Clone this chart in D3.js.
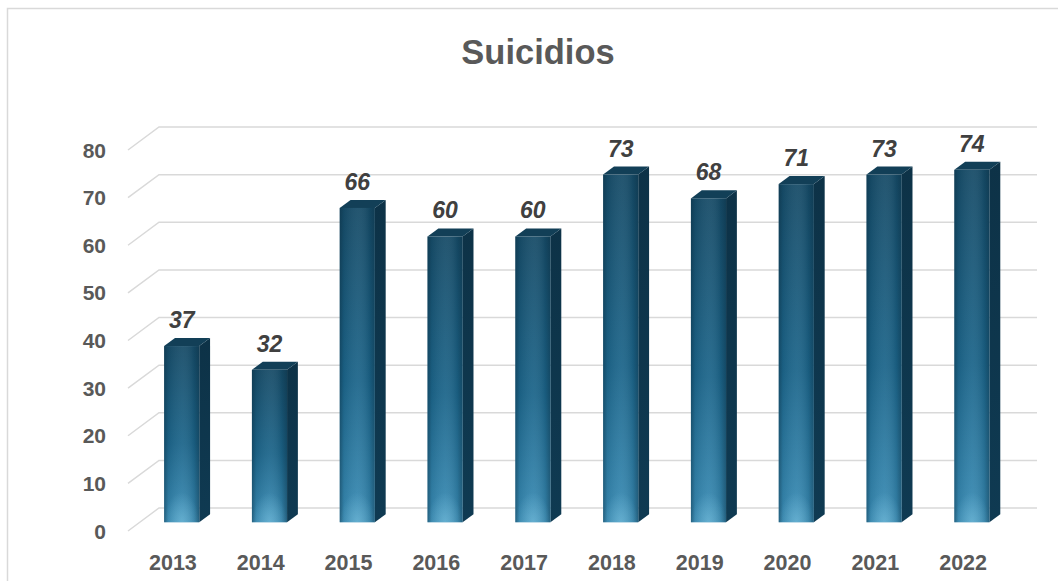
<!DOCTYPE html>
<html><head><meta charset="utf-8">
<script src="https://cdn.jsdelivr.net/npm/d3@7"></script>
<style>html,body{margin:0;padding:0;background:#fff;overflow:hidden}</style>
</head><body>
<svg id="c" width="1058" height="581"></svg>
<script>
const years = ["2013","2014","2015","2016","2017","2018","2019","2020","2021","2022"];
const values = [37,32,66,60,60,73,68,71,73,74];
const yTicks = [0,10,20,30,40,50,60,70,80];
const title = "Suicidios";

const svg = d3.select("#c");
const font = "'Liberation Sans', Arial, sans-serif";

// layout of the 3D box
const frontX0 = 128, frontX1 = 1006, frontBaseY = 531;
const depthDX = 31, depthDY = -23;
const plotH = 381;
const fBar0 = 0.38, fBar1 = 0.73;

const x = d3.scaleBand().domain(years).range([frontX0, frontX1]).paddingInner(0).paddingOuter(0);
const y = d3.scaleLinear().domain([0, 80]).range([0, plotH]);

const P = (px, v, f) => [px + f*depthDX, frontBaseY - y(v) + f*depthDY];

// border
svg.append("rect").attr("x",7.5).attr("y",8.5).attr("width",1100).attr("height",700)
  .attr("fill","none").attr("stroke","#d9d9d9").attr("stroke-width",1.5);

// title
svg.append("text").attr("x",538).attr("y",64).attr("text-anchor","middle")
  .attr("font-family",font).attr("font-weight","bold").attr("font-size",34.5)
  .attr("fill","#595959").text(title);

// gradients
const defs = svg.append("defs");
const gv = defs.append("linearGradient").attr("id","gv").attr("x1",0).attr("y1",0).attr("x2",0).attr("y2",1);
gv.append("stop").attr("offset","0%").attr("stop-color","#164b67");
gv.append("stop").attr("offset","55%").attr("stop-color","#1c658a");
gv.append("stop").attr("offset","100%").attr("stop-color","#3a8db6");
const gh = defs.append("linearGradient").attr("id","gh").attr("x1",0).attr("y1",0).attr("x2",1).attr("y2",0);
gh.append("stop").attr("offset","0%").attr("stop-color","#0a2a3c").attr("stop-opacity",0.45);
gh.append("stop").attr("offset","12%").attr("stop-color","#0a2a3c").attr("stop-opacity",0.1);
gh.append("stop").attr("offset","50%").attr("stop-color","#ffffff").attr("stop-opacity",0.06);
gh.append("stop").attr("offset","85%").attr("stop-color","#0a2a3c").attr("stop-opacity",0.15);
gh.append("stop").attr("offset","100%").attr("stop-color","#0a2a3c").attr("stop-opacity",0.45);
const gr = defs.append("radialGradient").attr("id","gr").attr("cx","0.5").attr("cy","1").attr("r","0.5");
gr.append("stop").attr("offset","0%").attr("stop-color","#7cc3e0").attr("stop-opacity",0.55);
gr.append("stop").attr("offset","100%").attr("stop-color","#7cc3e0").attr("stop-opacity",0);
const gs = defs.append("linearGradient").attr("id","gs").attr("x1",0).attr("y1",0).attr("x2",0).attr("y2",1);
gs.append("stop").attr("offset","0%").attr("stop-color","#0d3247");
gs.append("stop").attr("offset","100%").attr("stop-color","#0f3a52");

// gridlines and y tick labels
const grid = svg.append("g");
yTicks.forEach(t => {
  const a = P(frontX0, t, 0), b = P(frontX0, t, 1), c = P(frontX1, t, 1);
  grid.append("path").attr("d", d3.line()([a,b,c]))
    .attr("fill","none").attr("stroke","#d9d9d9").attr("stroke-width",1.5);
  grid.append("text").attr("x",106).attr("y",a[1]+7.5).attr("text-anchor","end")
    .attr("font-family",font).attr("font-weight","bold").attr("font-size",21)
    .attr("fill","#595959").text(t);
});

// bars
const bw = x.bandwidth()*0.4;
const bars = svg.append("g");
years.forEach((yr, i) => {
  const v = values[i];
  const x0 = x(yr) + (x.bandwidth()-bw)/2 - 2;
  const x1 = x0 + bw;
  const fl = P(x0, 0, fBar0), fr = P(x1, 0, fBar0);
  const tl = P(x0, v, fBar0), tr = P(x1, v, fBar0);
  const btr = P(x1, v, fBar1), btl = P(x0, v, fBar1), bbr = P(x1, 0, fBar1);
  const g = bars.append("g");
  g.append("path").attr("d", d3.line()([fr, tr, btr, bbr]) + "Z").attr("fill","url(#gs)");
  g.append("path").attr("d", d3.line()([tl, tr, btr, btl]) + "Z").attr("fill","#123f57");
  const rx = tl[0], ry = tl[1], rw = fr[0]-fl[0], rh = fl[1]-tl[1];
  g.append("rect").attr("x",rx).attr("y",ry).attr("width",rw).attr("height",rh).attr("fill","url(#gv)");
  g.append("rect").attr("x",rx).attr("y",ry).attr("width",rw).attr("height",rh).attr("fill","url(#gh)");
  g.append("rect").attr("x",rx).attr("y",Math.max(ry, fl[1]-60)).attr("width",rw)
    .attr("height",Math.min(rh,60)).attr("fill","url(#gr)");
  svg.append("text").attr("x",(tl[0]+tr[0])/2).attr("y",btl[1]-10).attr("text-anchor","middle")
    .attr("font-family",font).attr("font-weight","bold").attr("font-style","italic").attr("font-size",23)
    .attr("fill","#404040").text(v);
  svg.append("text").attr("x",x(yr)+x.bandwidth()/2+1).attr("y",569.5).attr("text-anchor","middle")
    .attr("font-family",font).attr("font-weight","bold").attr("font-size",21.5)
    .attr("fill","#595959").text(yr);
});
</script>
</body></html>
